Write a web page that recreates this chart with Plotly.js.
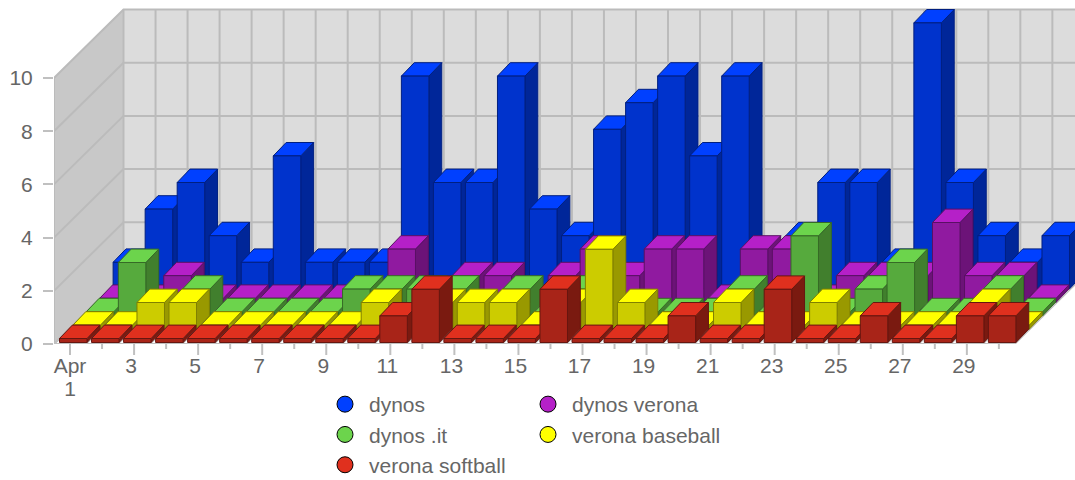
<!DOCTYPE html>
<html><head><meta charset="utf-8">
<script src="https://cdn.plot.ly/plotly-3.0.1.min.js"></script>
<style>html,body{margin:0;padding:0;background:#fff}</style></head>
<body><div id="chart" style="width:1075px;height:480px"></div>
<script>
const days = Array.from({length:30},(_,i)=>i+1);
const dynos          = [1,3,4,2,1,5,1,1,1,8,4,4,8,3,2,6,7,8,5,8,1,2,4,4,1,10,4,2,1,2];
const dynosVerona    = [0,0,1,0,0,0,0,0,0,2,0,1,1,0,1,2,1,2,2,0,2,2,0,1,1,1,3,1,1,0];
const dynosIt        = [0,2,0,1,0,0,0,0,1,1,1,1,0,1,0,1,0,0,0,0,1,0,3,0,1,2,0,0,1,0];
const veronaBaseball = [0,0,1,1,0,0,0,0,0,1,0,1,1,1,0,1,3,1,0,0,1,0,0,1,0,0,0,0,1,0];
const veronaSoftball = [0,0,0,0,0,0,0,0,0,0,1,2,0,0,0,2,0,0,0,1,0,0,2,0,0,1,0,0,1,1];
const tickLabels = ['Apr','3','5','7','9','11','13','15','17','19','21','23','25','27','29'];
const labelDays  = [1,3,5,7,9,11,13,15,17,19,21,23,25,27,29];

const series = [ // back to front
  {name:'dynos',           v:dynos,          top:'#0040ff', front:'#0033cc', side:'#002699', edge:'#001f80'},
  {name:'dynos verona',    v:dynosVerona,    top:'#b520c8', front:'#901aa0', side:'#6c1378', edge:'#5a1064'},
  {name:'dynos .it',       v:dynosIt,        top:'#6cd44c', front:'#56aa3d', side:'#417f2d', edge:'#366a26'},
  {name:'verona baseball', v:veronaBaseball, top:'#ffff00', front:'#cccc00', side:'#999900', edge:'#808000'},
  {name:'verona softball', v:veronaSoftball, top:'#e0301e', front:'#a82418', side:'#7a1a10', edge:'#661610'}
];

// scales of the plot area (pixels per axis unit)
const W=1021, H=344, PXD=32.03, PXV=26.6;
const xr=[0.5,0.5+W/PXD], yr=[0,H/PXV];
const DX=13.4/PXD, DY=13.4/PXV;           // oblique shift of one depth row
const L=-10.5/PXD, BW=27.5/PXD, MINH=4/PXV, LIFT=1.5/PXV;
const ROWS=5;
const xEnd=30.5;

const traces=[];
function poly(x,y,fill,line,w){traces.push({type:'scatter',mode:line?'lines':'none',x:x.concat(x[0]),y:y.concat(y[0]),fill:'toself',fillcolor:fill,
  line:{color:line||fill,width:w||1},hoverinfo:'skip',showlegend:false});}
function lines(x,y,color,w){traces.push({type:'scatter',mode:'lines',x:x,y:y,line:{color:color,width:w},hoverinfo:'skip',showlegend:false,connectgaps:false});}

const BX=69.5/PXD, BY=68.5/PXV;
// floor, left wall, back wall
poly([0.5,xEnd,xEnd+BX,0.5+BX],[0,0,BY,BY],'#ffffff');
poly([0.5,0.5,0.5+BX,0.5+BX],[0,10,10+BY,BY],'#c8c8c8');
poly([0.5+BX,xEnd+BX,xEnd+BX,0.5+BX],[BY,BY,10+BY,10+BY],'#dcdcdc');
// grid
const gx=[],gy=[];
for(let v=0;v<=10;v+=2){gx.push(0.5,0.5+BX,xEnd+BX,null);gy.push(v,v+BY,v+BY,null);}
for(let k=0;k<=30;k++){gx.push(0.5+k+BX,0.5+k+BX,null);gy.push(BY,10+BY,null);}
gx.push(0.5,0.5,null);gy.push(0,10,null);
lines(gx,gy,'#bbbbbb',2);
// floor lines
const fx=[],fy=[];
for(let k=0;k<=30;k++){fx.push(0.5+k,0.5+k+BX,null);fy.push(0,BY,null);}
lines(fx,fy,'#c0c0c0',1.5);

// columns: back row first, left to right
series.forEach((s,si)=>{
  const r=ROWS-1-si;
  s.v.forEach((val,i)=>{
    const x0=days[i]+L+r*DX, x1=x0+BW, y0=LIFT+r*DY, y1=y0+Math.max(val,MINH);
    const a=DX*0.96, b=DY;
    poly([x1,x1+a,x1+a,x1],[y0,y0+b,y1+b,y1],s.side,s.edge);
    poly([x0,x1,x1+a,x0+a],[y1,y1,y1+b,y1+b],s.top,s.edge);
    poly([x0,x1,x1,x0],[y0,y0,y1,y1],s.front,s.edge);
  });
});
// axis line
lines([0.5,xEnd],[0,0],'#c0c0c0',2);

// legends
const order=['dynos','dynos .it','verona softball','dynos verona','verona baseball'];
order.forEach((n,i)=>{
  const s=series.find(q=>q.name===n);
  traces.push({type:'scatter',mode:'markers',xaxis:'x2',x:[null],y:[null],name:n,
    legend:i<3?'legend':'legend2',legendgroup:n,
    marker:{size:16,color:s.top,line:{color:'#000',width:1}},hoverinfo:'skip'});
});

// tick marks of the day axis
const tickShapes=days.map(d=>({type:'line',layer:'above',xref:'x',yref:'paper',x0:d,x1:d,y0:0,y1:-(labelDays.includes(d)?11:5)/H,line:{color:'#c0c0c0',width:2}}));

const F={family:'"Liberation Sans",Arial,sans-serif',size:21,color:'#666666'};
const big=t=>'<span style="font-size:21px">'+t+'</span>';
const legBase={bgcolor:'rgba(0,0,0,0)',font:F,itemwidth:38,tracegroupgap:6,itemclick:false,itemdoubleclick:false,xanchor:'left',yanchor:'top',orientation:'v',traceorder:'normal'};
const layout={
  width:1075,height:480,margin:{l:54,r:0,t:0,b:136,pad:0,autoexpand:false},
  paper_bgcolor:'#fff',plot_bgcolor:'#fff',font:F,showlegend:true,shapes:tickShapes,
  xaxis2:{overlaying:'x',anchor:'y',side:'bottom',range:xr,showticklabels:false,ticks:'',showgrid:false,zeroline:false,showline:false},
  xaxis:{range:xr,tickmode:'array',
    tickvals:labelDays.map((d,i)=>i===0?d:d-3/PXD),
    ticktext:tickLabels.map((t,i)=>i===0?big(t)+'<br>'+big('1'):big(t)),ticks:'',tickangle:0,ticklabelstandoff:10,
    showgrid:false,zeroline:false,showline:false,tickfont:Object.assign({},F,{size:18})},
  yaxis:{range:yr,tickmode:'array',tickvals:[0,2,4,6,8,10],ticktext:['0','2','4','6','8','10'],ticks:'outside',ticklen:10,tickwidth:2,tickcolor:'#c0c0c0',
    showgrid:false,zeroline:false,showline:false,tickfont:F,ticklabelstandoff:6},
  legend:Object.assign({x:(321-54)/W,y:-(384-H)/H},legBase),
  legend2:Object.assign({x:(524-54)/W,y:-(384-H)/H},legBase)
};
Plotly.newPlot('chart',traces,layout,{displayModeBar:false});
</script></body></html>
